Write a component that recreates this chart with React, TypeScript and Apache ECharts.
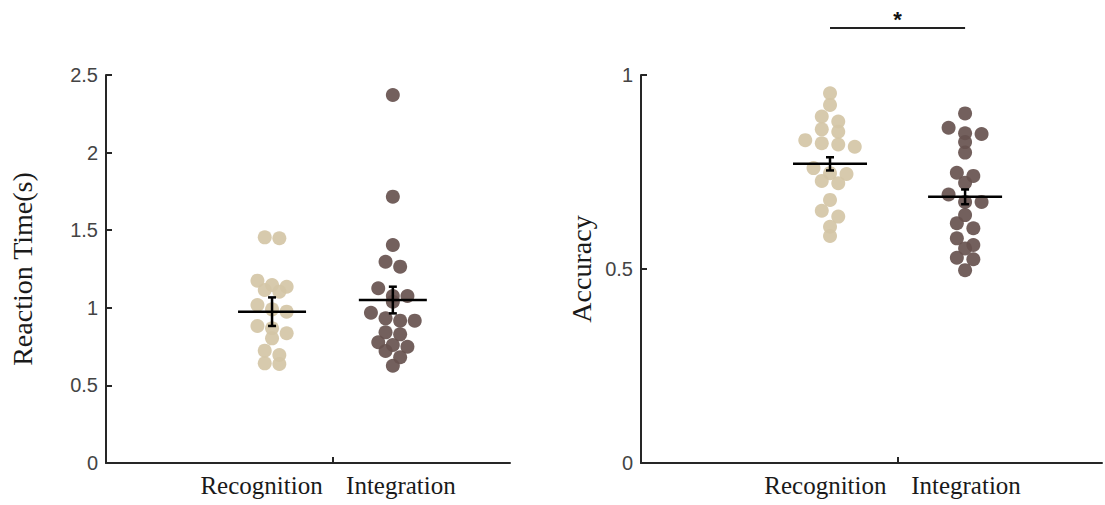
import React, { useEffect, useRef } from "react";
import * as echarts from "echarts";

// ---------- data ----------
const groups = ["Recognition", "Integration"];

const rtRecognition = [1.454, 1.448, 1.175, 1.147, 1.136, 1.115, 1.104, 1.018, 0.99, 0.975, 0.883, 0.868, 0.836, 0.803, 0.724, 0.696, 0.642, 0.638];
const rtIntegration = [2.371, 1.716, 1.405, 1.297, 1.265, 1.126, 1.076, 1.076, 1.039, 0.968, 0.932, 0.917, 0.917, 0.842, 0.829, 0.778, 0.76, 0.749, 0.722, 0.681, 0.627];
const rtMean = [0.975, 1.05];
const rtSem = [0.092, 0.086];

const accRecognition = [0.953, 0.923, 0.893, 0.88, 0.86, 0.854, 0.832, 0.824, 0.821, 0.815, 0.76, 0.747, 0.745, 0.727, 0.721, 0.678, 0.65, 0.635, 0.609, 0.585];
const accIntegration = [0.901, 0.864, 0.85, 0.848, 0.827, 0.8, 0.748, 0.74, 0.722, 0.692, 0.673, 0.673, 0.639, 0.618, 0.605, 0.579, 0.562, 0.553, 0.529, 0.525, 0.497];
const accMean = [0.771, 0.686];
const accSem = [0.017, 0.019];

const rtTicks = [0, 0.5, 1, 1.5, 2, 2.5];
const accTicks = [0, 0.5, 1];
const sigLabel = "*";
const sigLevel = 1.121;

// ---------- layout / style ----------
const W = 1105;
const H = 505;
const colors = ["#D4C5A6", "#67524F"];
const axisColor = "#262626";
const serif = "Liberation Serif";
const sans = "Liberation Sans";

const panels = [
  { left: 106, top: 75, width: 404, height: 388, yMax: 2.5, centers: [0.411, 0.71], tick: 0.562, labelPos: [0.385, 0.73], meanHalf: 34, spacing: 14.6, nameGap: 70 },
  { left: 641, top: 75, width: 461, height: 388, yMax: 1, centers: [0.41, 0.703], tick: 0.557, labelPos: [0.4, 0.705], meanHalf: 37, spacing: 16.5, nameGap: 46 },
];
const dotSize = 14;
const binPx = 8;

// beeswarm: values close in pixel space share a row and are spread symmetrically
function swarm(values: number[], pxPerUnit: number, spacing: number): number[] {
  const idx = values.map((_, i) => i).sort((a, b) => values[b] - values[a]);
  const off = new Array(values.length).fill(0);
  let i = 0;
  while (i < idx.length) {
    const start = values[idx[i]];
    const bin = [idx[i]];
    let j = i + 1;
    while (j < idx.length && (start - values[idx[j]]) * pxPerUnit < binPx) {
      bin.push(idx[j]);
      j++;
    }
    bin.forEach((k, m) => {
      off[k] = (m - (bin.length - 1) / 2) * spacing;
    });
    i = j;
  }
  return off;
}

function points(values: number[], panel: any, g: number) {
  const off = swarm(values, panel.height / panel.yMax, panel.spacing);
  return values.map((v, i) => [panel.centers[g] + off[i] / panel.width, v]);
}

export default function App() {
  const ref = useRef<HTMLDivElement>(null);

  useEffect(() => {
    if (!ref.current) return;
    const chart = echarts.init(ref.current, undefined, { renderer: "svg" });

    const lineStyle = { color: axisColor, width: 2 };
    const datasets = [
      [rtRecognition, rtIntegration],
      [accRecognition, accIntegration],
    ];
    const means = [rtMean, accMean];
    const sems = [rtSem, accSem];
    const names = ["Reaction Time(s)", "Accuracy"];
    const ticks = [rtTicks, accTicks];

    const xAxis = panels.map((p, k) => ({
      gridIndex: k,
      type: "value",
      min: 0,
      max: 1,
      axisLine: { show: true, onZero: false, lineStyle },
      axisTick: { show: true, inside: true, length: 6, customValues: [p.tick], lineStyle },
      axisLabel: {
        show: true,
        customValues: p.labelPos,
        margin: 10,
        fontFamily: serif,
        fontSize: 25,
        color: "#1a1a1a",
        formatter: (v: number) => {
          const d0 = Math.abs(v - p.labelPos[0]);
          const d1 = Math.abs(v - p.labelPos[1]);
          return d0 < d1 ? groups[0] : groups[1];
        },
      },
      splitLine: { show: false },
    }));

    const yAxis = panels.map((p, k) => ({
      gridIndex: k,
      type: "value",
      min: 0,
      max: p.yMax,
      interval: 0.5,
      name: names[k],
      nameLocation: "middle",
      nameGap: p.nameGap,
      nameTextStyle: { fontFamily: serif, fontSize: 28, color: "#1a1a1a" },
      axisLine: { show: true, lineStyle },
      axisTick: { show: true, inside: true, length: 6, lineStyle },
      axisLabel: {
        show: true,
        margin: 8,
        fontFamily: sans,
        fontSize: 20,
        color: "#444",
        formatter: (v: number) => (ticks[k].includes(v) ? String(v) : ""),
      },
      splitLine: { show: false },
    }));

    const series: any[] = [];
    panels.forEach((p, k) => {
      groups.forEach((gname, g) => {
        series.push({
          type: "scatter",
          name: gname,
          xAxisIndex: k,
          yAxisIndex: k,
          symbol: "circle",
          symbolSize: dotSize,
          itemStyle: { color: colors[g], opacity: 0.92 },
          data: points(datasets[k][g], p, g),
          z: 2,
        });
      });
      series.push({
        type: "custom",
        xAxisIndex: k,
        yAxisIndex: k,
        z: 5,
        data: groups.map((_, g) => [p.centers[g], means[k][g], sems[k][g]]),
        renderItem: (params: any, api: any) => {
          const x = api.value(0);
          const m = api.value(1);
          const s = api.value(2);
          const c = api.coord([x, m]);
          const t = api.coord([x, m + s]);
          const b = api.coord([x, m - s]);
          const st = { stroke: "#000", lineWidth: 2.5 };
          const cap = 4;
          return {
            type: "group",
            children: [
              { type: "line", shape: { x1: c[0] - p.meanHalf, y1: c[1], x2: c[0] + p.meanHalf, y2: c[1] }, style: st },
              { type: "line", shape: { x1: c[0], y1: t[1], x2: c[0], y2: b[1] }, style: st },
              { type: "line", shape: { x1: c[0] - cap, y1: t[1], x2: c[0] + cap, y2: t[1] }, style: st },
              { type: "line", shape: { x1: c[0] - cap, y1: b[1], x2: c[0] + cap, y2: b[1] }, style: st },
            ],
          };
        },
      });
    });

    // significance bracket on the accuracy panel
    const p2 = panels[1];
    series.push({
      type: "custom",
      xAxisIndex: 1,
      yAxisIndex: 1,
      clip: false,
      z: 5,
      data: [[p2.centers[0], sigLevel, p2.centers[1]]],
      renderItem: (params: any, api: any) => {
        const a = api.coord([api.value(0), api.value(1)]);
        const b = api.coord([api.value(2), api.value(1)]);
        return {
          type: "group",
          children: [
            { type: "line", shape: { x1: a[0], y1: a[1], x2: b[0], y2: b[1] }, style: { stroke: "#222", lineWidth: 2 } },
            {
              type: "text",
              x: (a[0] + b[0]) / 2,
              y: a[1] - 9,
              style: { text: sigLabel, fontSize: 22, fontWeight: "bold", fontFamily: sans, fill: "#111", align: "center", verticalAlign: "middle" },
            },
          ],
        };
      },
    });

    chart.setOption({
      animation: false,
      backgroundColor: "#fff",
      grid: panels.map((p) => ({ left: p.left, top: p.top, width: p.width, height: p.height })),
      xAxis,
      yAxis,
      series,
    });

    return () => chart.dispose();
  }, []);

  return (
    <div
      ref={ref}
      style={{ position: "fixed", left: 0, top: 0, width: W, height: H, background: "#fff" }}
    />
  );
}
